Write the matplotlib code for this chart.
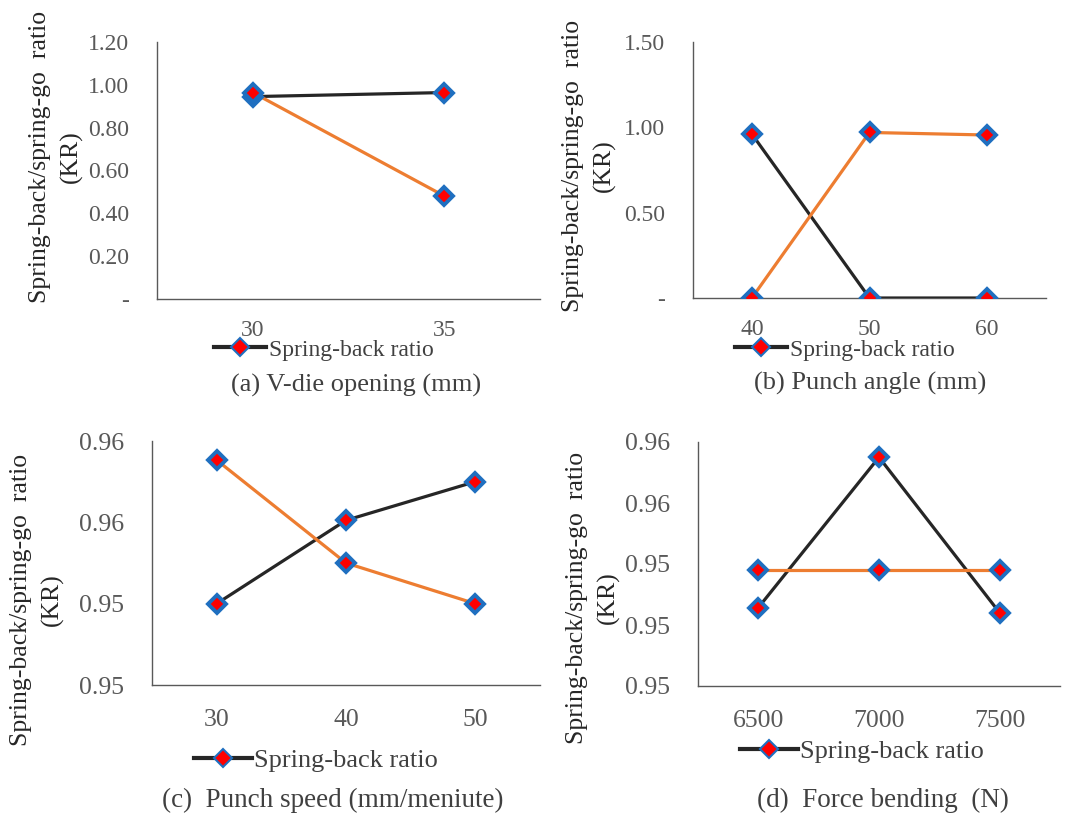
import matplotlib
matplotlib.use('Agg')
import matplotlib.pyplot as plt
from matplotlib.ticker import FuncFormatter, FixedLocator
from matplotlib.lines import Line2D

plt.rcParams['font.family'] = ['Liberation Serif', 'DejaVu Serif']

# data
v_die = ['30', '35']
v_die_black = [0.945, 0.964]
v_die_orange = [0.964, 0.481]

punch_angle = ['40', '50', '60']
angle_black = [0.961, 0.0, 0.0]
angle_orange = [0.0, 0.970, 0.955]

punch_speed = ['30', '40', '50']
speed_black = [0.9540, 0.95605, 0.9570]
speed_orange = [0.95753, 0.9550, 0.9540]

force = ['6500', '7000', '7500']
force_black = [0.95257, 0.9575, 0.9524]
force_orange = [0.9538, 0.9538, 0.9538]

ylabel = 'Spring-back/spring-go  ratio\n(KR)'
legend_text = 'Spring-back ratio'

BLACK = '#262626'
ORANGE = '#ED7D31'
RED = '#FF0000'
BLUE = '#1F6FC0'
GRAY = '#595959'
W, H = 1065, 814


def px_axes(fig, left, right, top, bottom):
    return fig.add_axes([left / W, 1 - bottom / H, (right - left) / W, (bottom - top) / H])


def dash_zero(v, pos):
    if abs(v) < 1e-9:
        return '-'
    return '%.2f' % v


def draw_panel(fig, box, cats, black, orange, yticks, fmt, tick_fs, xpad,
               label_xy, leg_xy, leg_fs, title, title_xy, title_fs):
    ax = px_axes(fig, *box)
    x = list(range(len(cats)))
    ax.plot(x, black, color=BLACK, lw=2.3, zorder=3)
    ax.plot(x, orange, color=ORANGE, lw=2.3, zorder=3)
    for ys in (black, orange):
        ax.plot(x, ys, ls='none', marker='D', ms=9.5, mfc=RED, mec=BLUE, mew=2.8, zorder=4)
    ax.set_xlim(-0.5, len(cats) - 0.5)
    ax.set_ylim(yticks[0], yticks[-1])
    ax.set_xticks(x)
    ax.set_xticklabels(cats)
    ax.yaxis.set_major_locator(FixedLocator(yticks))
    ax.yaxis.set_major_formatter(FuncFormatter(fmt))
    ax.tick_params(axis='both', length=0, colors=GRAY, labelsize=tick_fs)
    ax.tick_params(axis='x', pad=xpad)
    ax.tick_params(axis='y', pad=20)
    for s in ('top', 'right'):
        ax.spines[s].set_visible(False)
    for s in ('left', 'bottom'):
        ax.spines[s].set_color(GRAY)
        ax.spines[s].set_linewidth(1.0)
    fig.text(label_xy[0] / W, 1 - label_xy[1] / H, ylabel, rotation=90, ha='center',
             va='center', multialignment='center', fontsize=18.5, color='#262626',
             linespacing=1.45)
    h = Line2D([], [], color=BLACK, lw=3, marker='D', ms=9, mfc=RED, mec=BLUE, mew=1.5)
    fig.legend([h], [legend_text], loc='center', frameon=False, fontsize=leg_fs,
               bbox_to_anchor=(leg_xy[0] / W, 1 - leg_xy[1] / H), handlelength=2.2,
               handletextpad=0.1, borderpad=0, labelcolor='#404040')
    fig.text(title_xy[0] / W, 1 - title_xy[1] / H, title, ha='center', va='center',
             fontsize=title_fs, color='#404040')
    return ax


fig = plt.figure(figsize=(10.65, 8.14), dpi=100)

draw_panel(fig, (157, 540, 42, 299), v_die, v_die_black, v_die_orange,
           [0, 0.2, 0.4, 0.6, 0.8, 1.0, 1.2], dash_zero, 17, 15,
           (56, 157), (324, 350), 17, '(a) V-die opening (mm)', (356, 385), 19)
draw_panel(fig, (693, 1046, 42, 298), punch_angle, angle_black, angle_orange,
           [0, 0.5, 1.0, 1.5], dash_zero, 17, 15,
           (589, 166), (845, 350), 17, '(b) Punch angle (mm)', (870, 383), 19)
draw_panel(fig, (152, 540, 441, 685), punch_speed, speed_black, speed_orange,
           [0.952, 0.954, 0.956, 0.958], lambda v, p: '%.2f' % v, 18.5, 17,
           (37, 600), (316, 760), 19, '(c)  Punch speed (mm/meniute)', (333, 800), 19.5)
draw_panel(fig, (698, 1060, 442, 686), force, force_black, force_orange,
           [0.950, 0.952, 0.954, 0.956, 0.958], lambda v, p: '%.2f' % v, 18.5, 17,
           (593, 598), (862, 751), 19, '(d)  Force bending  (N)', (883, 800), 19.5)

fig.savefig('out.png', dpi=100)
